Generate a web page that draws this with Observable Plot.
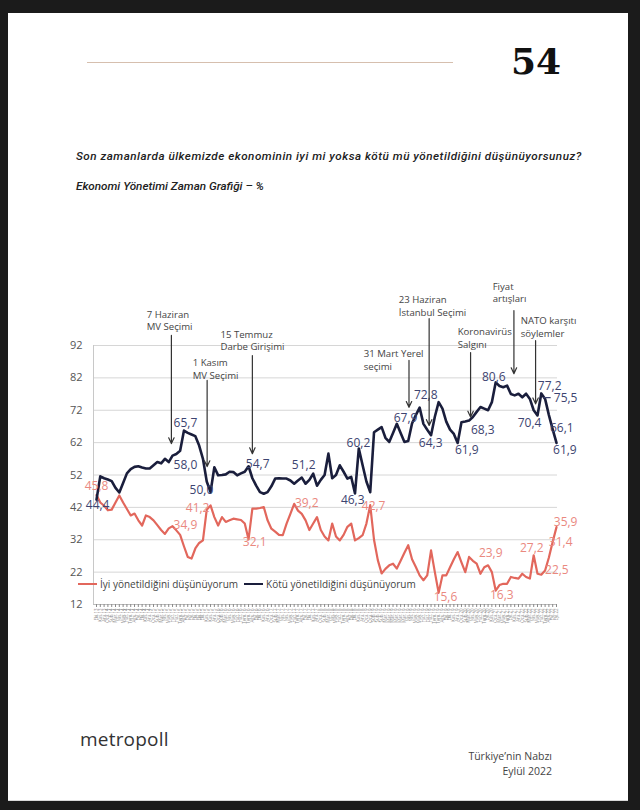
<!DOCTYPE html>
<html><head><meta charset="utf-8">
<script src="https://cdn.jsdelivr.net/npm/d3@7"></script>
<script src="https://cdn.jsdelivr.net/npm/@observablehq/plot@0.6"></script>
<style>
html,body{margin:0;padding:0;background:#1b1b1b;width:640px;height:810px;overflow:hidden;}
#page{position:absolute;left:8px;top:13px;width:620px;height:787px;background:#fff;border-bottom:1px solid #d8d8d8;}
.abs{position:absolute;}
#rule{left:79px;top:49px;width:366px;height:1px;background:#d6bfae;}
#num{left:503px;top:27px;font-family:"DejaVu Serif",serif;font-weight:bold;font-size:36px;color:#111;}
#title{left:68px;top:136px;font-family:Roboto,sans-serif;font-style:italic;font-weight:500;font-size:11.7px;letter-spacing:0.5px;color:#222;white-space:nowrap;}
#sub{left:68px;top:166px;font-family:Roboto,sans-serif;font-style:italic;font-weight:500;font-size:11.7px;color:#222;white-space:nowrap;}
#chart{left:-8px;top:257px;}
#legend{left:70px;top:564px;font-family:"Open Sans",sans-serif;font-size:10px;color:#444;white-space:nowrap;display:flex;align-items:center;}
#legend span.l{display:inline-block;width:19px;height:2.5px;margin-right:3px;}
#logo{left:72px;top:713px;font-family:"Open Sans",sans-serif;font-size:19px;color:#333;letter-spacing:0.2px;}
#foot{right:76px;top:736px;font-family:"Open Sans",sans-serif;font-size:10.5px;color:#444;text-align:right;line-height:15px;}
</style></head>
<body>
<div id="page">
  <div id="rule" class="abs"></div>
  <div id="num" class="abs">54</div>
  <div id="title" class="abs">Son zamanlarda ülkemizde ekonominin iyi mi yoksa kötü mü yönetildiğini düşünüyorsunuz?</div>
  <div id="sub" class="abs">Ekonomi Yönetimi Zaman Grafiği – %</div>
  <div id="chart" class="abs"></div>
  <div id="legend" class="abs"><span class="l" style="background:#e2675c"></span>İyi yönetildiğini düşünüyorum<span class="l" style="background:#1a1e3c;margin-left:6px"></span>Kötü yönetildiğini düşünüyorum</div>
  <div id="logo" class="abs">metro<span style="font-weight:500">poll</span></div>
  <div id="foot" class="abs">Türkiye’nin Nabzı<br>Eylül 2022</div>
</div>
<script>
// Survey waves (tick labels, tiny and rotated in the original)
const tickLabels = [
"Eki.13","Kas.13","Ara.13","Oca.14","Şub.14","Mar.14","Nis.14","May.14","Haz.14","Tem.14",
"Ağu.14","Eyl.14","Eki.14","Kas.14","Ara.14","Oca.15","Şub.15","Mar.15","Nis.15","May.15",
"Haz.15","Haz.15","Tem.15","Ağu.15","Eyl.15","Eyl.15","Eki.15","Eki.15","Eki.15","Kas.15",
"Kas.15","Ara.15","Oca.16","Şub.16","Mar.16","Nis.16","May.16","Haz.16","Haz.16","Tem.16",
"Tem.16","Ağu.16","Eyl.16","Eki.16","Kas.16","Ara.16","Oca.17","Şub.17","Mar.17","Nis.17",
"Nis.17","May.17","Haz.17","Tem.17","Ağu.17","Eyl.17","Eki.17","Kas.17","Ara.17","Oca.18",
"Şub.18","Mar.18","Nis.18","May.18","Haz.18","Tem.18","Ağu.18","Eyl.18","Eki.18","Kas.18",
"Ara.18","Oca.19","Oca.19","Şub.19","Şub.19","Şub.19","Mar.19","Mar.19","Mar.19","Mar.19",
"Mar.19","Mar.19","Nis.19","Nis.19","May.19","May.19","Haz.19","Haz.19","Haz.19","Tem.19",
"Tem.19","Ağu.19","Eyl.19","Eki.19","Kas.19","Ara.19","Oca.20","Şub.20","Mar.20","Nis.20",
"May.20","Haz.20","Tem.20","Eyl.20","Kas.20","Oca.21","Mar.21","May.21","Tem.21","Eyl.21",
"Kas.21","Ara.21","Oca.22","Şub.22","Mar.22","Nis.22","May.22","Haz.22","Tem.22","Ağu.22",
"Eyl.22","Eyl.22"];

// Kötü yönetildiğini düşünüyorum (%)
const kotu = [
44.4,51.6,51.0,50.6,50.1,48.0,46.6,49.5,52.5,53.8,
54.5,54.7,54.3,54.0,54.0,55.0,56.0,55.6,57.0,56.0,
58.0,58.5,59.5,65.7,65.0,64.5,64.0,61.1,57.0,50.0,
46.7,54.4,51.9,52.0,52.2,53.0,52.9,51.9,52.5,53.0,
54.7,51.0,48.7,46.7,46.2,46.7,48.5,50.9,51.0,50.9,
50.9,50.3,49.3,50.3,51.2,49.3,50.5,52.4,48.7,50.5,
52.0,58.6,51.0,52.0,55.0,53.0,50.9,51.4,46.3,60.2,
55.0,50.0,46.7,65.2,66.0,66.8,63.5,62.2,65.0,67.8,
65.0,62.2,62.5,67.9,70.5,72.8,67.8,66.0,64.3,70.0,
74.5,72.5,68.5,66.0,64.7,61.9,68.3,68.5,68.8,69.9,
71.5,73.0,72.5,72.0,74.5,80.6,79.5,79.1,79.6,77.0,
76.6,77.1,76.0,77.1,75.5,72.0,70.4,77.2,75.5,70.5,
66.1,61.9];

// İyi yönetildiğini düşünüyorum (%)
const iyi = [
45.8,43.5,42.5,41.1,41.3,43.5,45.7,43.5,41.5,39.5,
40.1,38.0,36.4,39.5,39.0,38.0,36.5,35.0,33.8,35.5,
36.2,34.9,33.5,30.0,26.7,26.2,29.3,31.0,31.8,41.3,
42.6,39.0,36.4,39.0,37.5,38.0,38.5,38.3,38.1,37.0,
32.1,41.6,41.6,41.8,42.1,38.0,35.4,34.5,33.5,33.4,
37.0,40.0,43.1,41.0,40.0,38.0,35.0,37.0,39.0,35.0,
33.0,31.8,37.0,33.0,31.8,33.5,36.0,37.0,31.8,32.5,
33.4,37.0,42.7,32.0,25.7,21.6,23.0,24.1,24.6,23.1,
25.5,28.0,30.3,26.0,23.6,21.0,19.5,21.0,28.7,22.0,
15.6,21.0,21.0,23.5,26.0,28.2,25.0,22.0,26.7,25.5,
24.6,21.5,23.5,24.1,22.0,16.3,18.0,18.4,18.4,20.5,
20.2,20.0,21.5,20.5,20.0,27.2,21.5,21.2,22.5,26.5,
31.4,35.9];

const yTicks = [12,22,32,42,52,62,72,82,92];

// value labels: wave position, label height (value units), text
const kotuLabelPos = [0.3,23.4,23.4,27.6,42.4,54.5,67.4,68.9,81.3,86.6,87.9,97.4,101.6,104.5,113.9,119.2,123.4,122.4,123.2];
const kotuLabelY   = [42.7,67.9,54.9,47.2,55.2,54.9,44.1,61.7,69.5,76.6,61.7,59.6,65.7,82.1,67.9,79.3,75.6,66.4,59.6];
const kotuLabelTxt = ["44,4","65,7","58,0","50,0","54,7","51,2","46,3","60,2","67,9","72,8","64,3","61,9","68,3","80,6","70,4","77,2","75,5","66,1","61,9"];
const iyiLabelPos = [0,26.6,23.4,41.6,55.3,72.9,91.8,103.7,106.6,114.5,123.4,122.1,121.1];
const iyiLabelY   = [48.6,41.7,36.4,31.2,43.2,42.3,14.2,27.8,14.8,29.3,37.3,31.2,22.5];
const iyiLabelTxt = ["45,8","41,2","34,9","32,1","39,2","42,7","15,6","23,9","16,3","27,2","35,9","31,4","22,5"];
// short leader for the 75,5 label
const leader = [{x1: 117.7, x2: 119.6, y: 75.9}];

// event annotations
const evText  = ["7 Haziran\nMV Seçimi","1 Kasım\nMV Seçimi","15 Temmuz\nDarbe Girişimi","31 Mart Yerel\nseçimi","23 Haziran\nİstanbul Seçimi","Koronavirüs\nSalgını","Fiyat\nartışları","NATO karşıtı\nsöylemler"];
const evTextX = [13.2,25.3,32.6,70.3,79.5,95.0,104.2,111.6];
const evTextY = [99.9,84.9,93.7,87.6,104.35,94.5,108.55,97.8];
const evWave  = [19.7,29.1,41.0,82.2,87.5,98.4,109.8,115.5];
const evTop   = [95.1,81.2,88.9,87.4,100.3,89.8,102.8,93.5];
const evTip   = [61.7,54.6,58.6,72.9,67.3,69.9,83.3,74.0];

const rows = (arr) => arr.map((v,i)=>({i, v}));
const kotuRows = rows(kotu), iyiRows = rows(iyi);
const kLab = kotuLabelTxt.map((t,k)=>({x:kotuLabelPos[k], y:kotuLabelY[k], t}));
const iLab = iyiLabelTxt.map((t,k)=>({x:iyiLabelPos[k], y:iyiLabelY[k], t}));
const events = evText.map((t,k)=>({t, tx:evTextX[k], ty:evTextY[k], w:evWave[k], top:evTop[k], tip:evTip[k]}));

const NAVY = "#1a1e3c", RED = "#e2675c";

const chart = Plot.plot({
  width: 600, height: 360,
  marginLeft: 96, marginRight: 44, marginTop: 75, marginBottom: 26,
  x: {type: "linear", domain: [0, tickLabels.length - 1], axis: null},
  y: {domain: [12, 92], axis: null},
  style: {fontFamily: "'Open Sans', sans-serif", background: "transparent", overflow: "visible"},
  marks: [
    Plot.ruleY(yTicks, {stroke: "#d6d6d6", strokeWidth: 1, insetLeft: -3, insetRight: -1}),
    Plot.ruleX([0], {dx: -3, stroke: "#c8c8c8"}),
    Plot.ruleY([12], {stroke: "#bdbdbd", insetLeft: -3, insetRight: -1}),
    Plot.axisY(yTicks, {tickSize: 0, tickPadding: 14, fontSize: 11, color: "#555"}),
    Plot.axisX(d3.range(tickLabels.length), {tickSize: 3, tickPadding: 1, tickRotate: -90, fontSize: 4.4, color: "#8a8a8a", tickFormat: i => tickLabels[i]}),
    Plot.line(iyiRows, {x: "i", y: "v", stroke: RED, strokeWidth: 2.2, strokeLinejoin: "round"}),
    Plot.line(kotuRows, {x: "i", y: "v", stroke: NAVY, strokeWidth: 2.6, strokeLinejoin: "round"}),
    Plot.ruleY(leader, {x1: "x1", x2: "x2", y: "y", stroke: "#3d4470", strokeWidth: 1.2}),
    Plot.text(kLab, {x: "x", y: "y", text: "t", fill: "#3d4470", fontSize: 12}),
    Plot.text(iLab, {x: "x", y: "y", text: "t", fill: "#ea897f", fontSize: 12}),
    Plot.arrow(events, {x1: "w", x2: "w", y1: "top", y2: "tip", stroke: "#333", strokeWidth: 1.2, headLength: 8, headAngle: 50}),
    Plot.text(events, {x: "tx", y: "ty", text: "t", textAnchor: "start", lineHeight: 1.32, fontSize: 9.6, fill: "#444"})
  ]
});
document.getElementById("chart").appendChild(chart);
</script>
</body></html>
